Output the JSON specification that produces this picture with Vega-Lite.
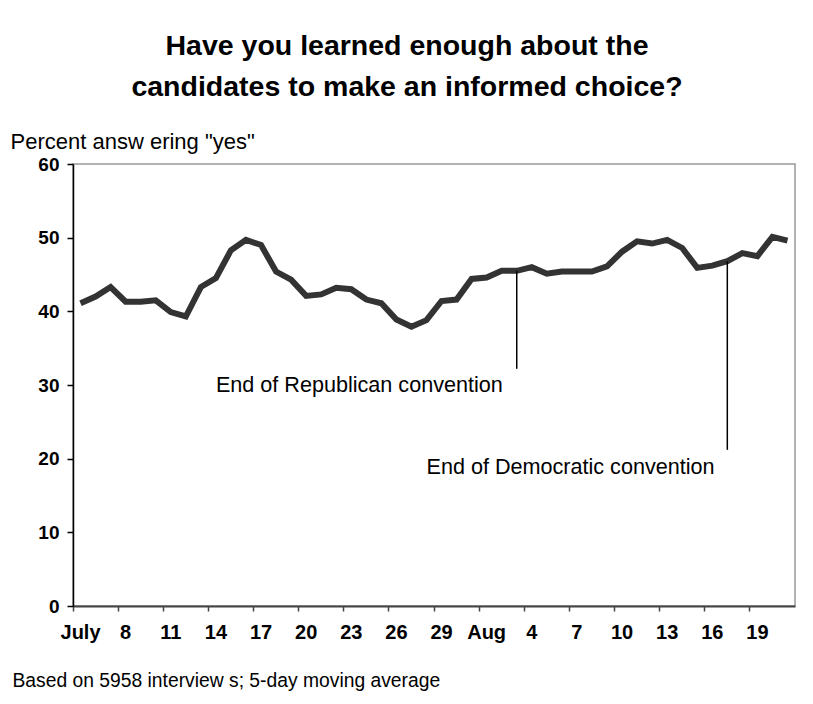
{
  "$schema": "https://vega.github.io/schema/vega-lite/v6.json",
  "width": 722,
  "height": 442,
  "autosize": {"type": "none"},
  "padding": {"left": 73, "top": 164, "right": 18, "bottom": 98},
  "background": "white",
  "title": {
    "text": ["Have you learned enough about the", "candidates to make an informed choice?"],
    "font": "Liberation Sans",
    "fontSize": 28.5,
    "fontWeight": "bold",
    "color": "black",
    "anchor": "middle",
    "frame": "group",
    "dx": -27,
    "lineHeight": 41,
    "offset": 29
  },
  "config": {
    "font": "Liberation Sans",
    "view": {"stroke": "#999999", "strokeWidth": 1.5},
    "axis": {"grid": false, "labelColor": "black", "titleColor": "black"}
  },
  "datasets": {
    "poll": [
      {"date": "2000-07-05", "pct": 41.1},
      {"date": "2000-07-06", "pct": 42.0},
      {"date": "2000-07-07", "pct": 43.3},
      {"date": "2000-07-08", "pct": 41.3},
      {"date": "2000-07-09", "pct": 41.3},
      {"date": "2000-07-10", "pct": 41.5},
      {"date": "2000-07-11", "pct": 39.9},
      {"date": "2000-07-12", "pct": 39.3},
      {"date": "2000-07-13", "pct": 43.3},
      {"date": "2000-07-14", "pct": 44.5},
      {"date": "2000-07-15", "pct": 48.3},
      {"date": "2000-07-16", "pct": 49.7},
      {"date": "2000-07-17", "pct": 49.0},
      {"date": "2000-07-18", "pct": 45.4},
      {"date": "2000-07-19", "pct": 44.3},
      {"date": "2000-07-20", "pct": 42.1},
      {"date": "2000-07-21", "pct": 42.3},
      {"date": "2000-07-22", "pct": 43.2},
      {"date": "2000-07-23", "pct": 43.0},
      {"date": "2000-07-24", "pct": 41.6},
      {"date": "2000-07-25", "pct": 41.1},
      {"date": "2000-07-26", "pct": 38.9},
      {"date": "2000-07-27", "pct": 37.9},
      {"date": "2000-07-28", "pct": 38.8},
      {"date": "2000-07-29", "pct": 41.4},
      {"date": "2000-07-30", "pct": 41.6},
      {"date": "2000-07-31", "pct": 44.4},
      {"date": "2000-08-01", "pct": 44.6},
      {"date": "2000-08-02", "pct": 45.5},
      {"date": "2000-08-03", "pct": 45.5},
      {"date": "2000-08-04", "pct": 46.0},
      {"date": "2000-08-05", "pct": 45.1},
      {"date": "2000-08-06", "pct": 45.4},
      {"date": "2000-08-07", "pct": 45.4},
      {"date": "2000-08-08", "pct": 45.4},
      {"date": "2000-08-09", "pct": 46.1},
      {"date": "2000-08-10", "pct": 48.1},
      {"date": "2000-08-11", "pct": 49.5},
      {"date": "2000-08-12", "pct": 49.2},
      {"date": "2000-08-13", "pct": 49.7},
      {"date": "2000-08-14", "pct": 48.6},
      {"date": "2000-08-15", "pct": 45.9},
      {"date": "2000-08-16", "pct": 46.2},
      {"date": "2000-08-17", "pct": 46.8},
      {"date": "2000-08-18", "pct": 47.9},
      {"date": "2000-08-19", "pct": 47.5},
      {"date": "2000-08-20", "pct": 50.1},
      {"date": "2000-08-21", "pct": 49.6}
    ],
    "conventions": [
      {"date": "2000-08-03", "top": 45.5, "bottom": 32.2},
      {"date": "2000-08-17", "top": 46.8, "bottom": 21.2}
    ],
    "notes": [
      {"date": "2000-07-14", "pct": 29.0, "note": "End of Republican convention"},
      {"date": "2000-07-28", "pct": 17.9, "note": "End of Democratic convention"}
    ]
  },
  "encoding": {
    "x": {
      "field": "date",
      "type": "ordinal",
      "scale": {"type": "band", "paddingInner": 0, "paddingOuter": 0},
      "axis": {
        "values": ["2000-07-05", "2000-07-08", "2000-07-11", "2000-07-14", "2000-07-17", "2000-07-20", "2000-07-23", "2000-07-26", "2000-07-29", "2000-08-01", "2000-08-04", "2000-08-07", "2000-08-10", "2000-08-13", "2000-08-16", "2000-08-19"],
        "labelExpr": "isString(datum.value) ? (datum.value == '2000-07-05' ? 'July' : datum.value == '2000-08-01' ? 'Aug' : '' + toNumber(slice(datum.value, 8))) : ''",
        "labelAngle": 0,
        "labelOverlap": false,
        "labelFontSize": 20,
        "labelFontWeight": "bold",
        "labelPadding": 11,
        "bandPosition": 0,
        "tickSize": 5,
        "tickColor": "#444444",
        "tickWidth": 1.5,
        "domainColor": "#444444",
        "domainWidth": 2,
        "title": "Based on 5958 interview s; 5-day moving average",
        "titleFontSize": 19.3,
        "titleFontWeight": "normal",
        "titleAlign": "left",
        "titleBaseline": "alphabetic",
        "titleX": -61,
        "titleY": 80
      }
    }
  },
  "layer": [
    {
      "data": {"name": "poll"},
      "mark": {"type": "line", "color": "#333333", "strokeWidth": 6},
      "encoding": {
        "y": {
          "field": "pct",
          "type": "quantitative",
          "scale": {"domain": [0, 60], "nice": false},
          "axis": {
            "values": [0, 10, 20, 30, 40, 50, 60],
            "labelFontSize": 19,
            "labelFontWeight": "bold",
            "labelPadding": 8,
            "tickSize": 6,
            "tickColor": "black",
            "tickWidth": 1.5,
            "domainColor": "black",
            "domainWidth": 1.5,
            "title": "Percent answ ering \"yes\"",
            "titleFontSize": 22,
            "titleFontWeight": "normal",
            "titleAngle": 0,
            "titleAlign": "left",
            "titleBaseline": "alphabetic",
            "titleX": -63,
            "titleY": -16
          }
        }
      }
    },
    {
      "data": {"name": "conventions"},
      "mark": {"type": "rule", "color": "black", "strokeWidth": 1.5},
      "encoding": {
        "y": {"field": "top", "type": "quantitative"},
        "y2": {"field": "bottom"}
      }
    },
    {
      "data": {"name": "notes"},
      "mark": {"type": "text", "align": "left", "baseline": "alphabetic", "fontSize": 21.6, "color": "black"},
      "encoding": {
        "y": {"field": "pct", "type": "quantitative"},
        "text": {"field": "note"}
      }
    }
  ]
}
